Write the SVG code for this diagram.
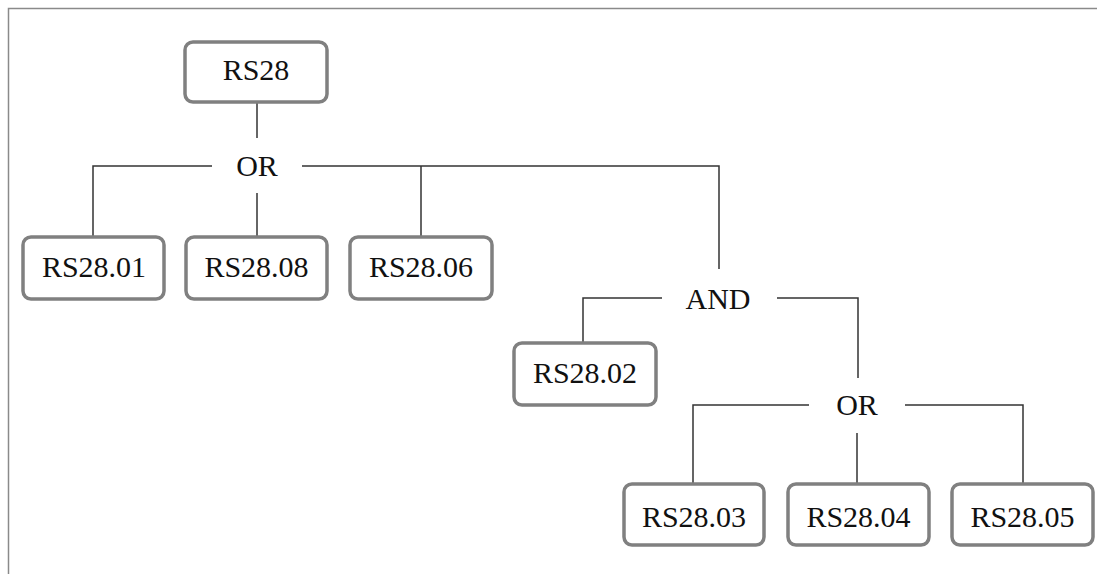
<svg xmlns="http://www.w3.org/2000/svg" width="1097" height="574" viewBox="0 0 1097 574">
  <style>
    .frame { fill: none; stroke: #8a8a8a; stroke-width: 1.5; }
    .box { fill: #ffffff; stroke: #808080; stroke-width: 3.5; }
    .wire { fill: none; stroke: #333333; stroke-width: 1.5; }
    .lbl { font-family: 'Liberation Serif', Tinos, 'Times New Roman', 'DejaVu Serif', serif; font-size: 30px; fill: #111111; text-anchor: middle; }
  </style>
  <rect width="1097" height="574" fill="#ffffff"/>
  <!-- page frame (top and left edges) -->
  <path class="frame" d="M8.5 574 V8.5 H1097"/>

  <!-- connectors -->
  <g id="connectors">
    <path class="wire" d="M257 102 V138"/>
    <path class="wire" d="M212 166 H93 V237"/>
    <path class="wire" d="M257 193 V237"/>
    <path class="wire" d="M302 166 H719 V269"/>
    <path class="wire" d="M421 166 V237"/>
    <path class="wire" d="M662 298 H583 V343"/>
    <path class="wire" d="M777 298 H858 V378"/>
    <path class="wire" d="M809 405 H693 V484"/>
    <path class="wire" d="M857 433 V484"/>
    <path class="wire" d="M905 405 H1023 V484"/>
  </g>

  <!-- gate labels -->
  <g id="gate-or-top"><text class="lbl" x="257" y="176">OR</text></g>
  <g id="gate-and"><text class="lbl" x="718" y="309">AND</text></g>
  <g id="gate-or-bottom"><text class="lbl" x="857" y="415">OR</text></g>

  <!-- requirement nodes -->
  <g id="rs28"><rect class="box" x="185" y="42" width="142" height="60" rx="8"/><text class="lbl" x="256" y="80">RS28</text></g>
  <g id="rs28-01"><rect class="box" x="23" y="237" width="141" height="62" rx="8"/><text class="lbl" x="94" y="277">RS28.01</text></g>
  <g id="rs28-08"><rect class="box" x="186" y="237" width="141" height="62" rx="8"/><text class="lbl" x="256.5" y="277">RS28.08</text></g>
  <g id="rs28-06"><rect class="box" x="350" y="237" width="142" height="62" rx="8"/><text class="lbl" x="421" y="277">RS28.06</text></g>
  <g id="rs28-02"><rect class="box" x="514" y="343" width="142" height="62" rx="8"/><text class="lbl" x="585" y="383">RS28.02</text></g>
  <g id="rs28-03"><rect class="box" x="624" y="484" width="140" height="61" rx="8"/><text class="lbl" x="694" y="527">RS28.03</text></g>
  <g id="rs28-04"><rect class="box" x="788" y="484" width="141" height="61" rx="8"/><text class="lbl" x="858.5" y="527">RS28.04</text></g>
  <g id="rs28-05"><rect class="box" x="952" y="484" width="141" height="61" rx="8"/><text class="lbl" x="1022.5" y="527">RS28.05</text></g>
</svg>
